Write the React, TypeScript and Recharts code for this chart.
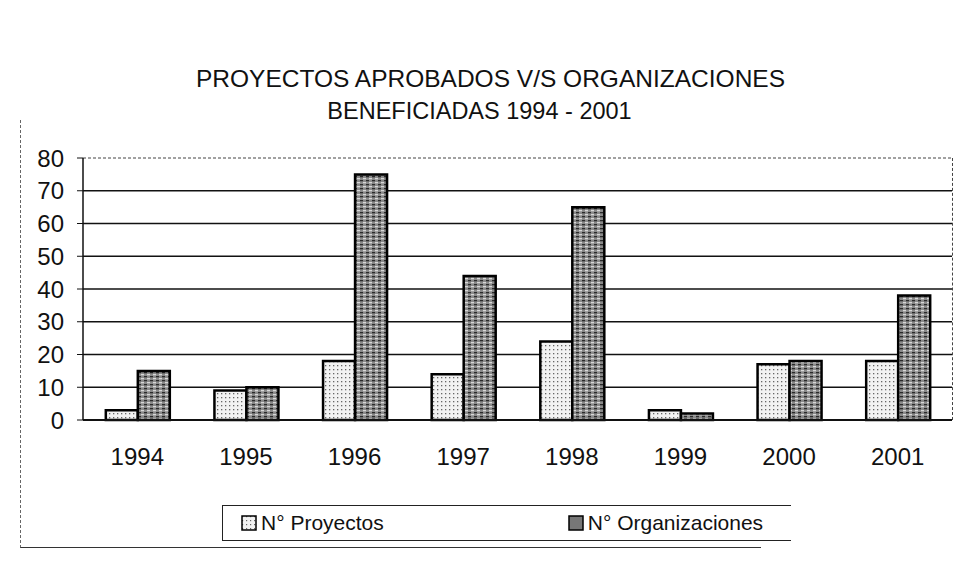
import React from 'react';
import { BarChart, Bar, XAxis, YAxis, CartesianGrid, ReferenceLine } from 'recharts';

const years = ['1994', '1995', '1996', '1997', '1998', '1999', '2000', '2001'];
const proyectos = [3, 9, 18, 14, 24, 3, 17, 18];
const organizaciones = [15, 10, 75, 44, 65, 2, 18, 38];
const yTicks = [0, 10, 20, 30, 40, 50, 60, 70, 80];

const data = years.map((year, i) => ({
    year,
    proyectos: proyectos[i],
    organizaciones: organizaciones[i],
}));

const font = '"Liberation Sans", Arial, sans-serif';

const LegendBox: React.FC = () => (
    <div
        style={{
            position: 'absolute',
            left: 222,
            top: 505,
            width: 568,
            height: 34,
            borderLeft: '1.5px solid #222',
            borderTop: '1.5px solid #222',
            borderBottom: '1.5px solid #222',
            fontFamily: font,
            fontSize: 21,
            color: '#111',
            display: 'flex',
            alignItems: 'center',
        }}
    >
        <svg width={16} height={16} style={{ marginLeft: 18, marginRight: 4 }}>
            <defs>
                <pattern id="dotsLegend" width="4" height="4" patternUnits="userSpaceOnUse">
                    <rect width="4" height="4" fill="#f2f2f2" />
                    <rect x="1" y="1" width="1.2" height="1.2" fill="#666" />
                </pattern>
            </defs>
            <rect x={1} y={1} width={14} height={14} fill="url(#dotsLegend)" stroke="#000" strokeWidth={1.5} />
        </svg>
        <span>N° Proyectos</span>
        <svg width={16} height={16} style={{ marginLeft: 184, marginRight: 4 }}>
            <rect x={1} y={1} width={14} height={14} fill="#777" stroke="#000" strokeWidth={1.5} />
        </svg>
        <span>N° Organizaciones</span>
    </div>
);

export default function App() {
    return (
        <div style={{ position: 'absolute', left: 0, top: 0, width: 959, height: 569, background: '#fff' }}>
            <div
                style={{
                    position: 'absolute',
                    left: 20,
                    top: 120,
                    width: 740,
                    height: 427,
                    borderLeft: '1px dashed #666',
                    borderBottom: '1.5px solid #333',
                }}
            />
            <div
                style={{
                    position: 'absolute',
                    left: 0,
                    top: 62,
                    width: 959,
                    textAlign: 'center',
                    fontFamily: font,
                    fontSize: 24.5,
                    lineHeight: '33px',
                    color: '#111',
                }}
            >
                <div style={{ marginLeft: 22 }}>PROYECTOS APROBADOS V/S ORGANIZACIONES</div>
                <div style={{ marginLeft: 0, fontSize: 23.5 }}>BENEFICIADAS 1994 - 2001</div>
            </div>
            <div style={{ position: 'absolute', left: 0, top: 0 }}>
                <BarChart
                    width={959}
                    height={569}
                    data={data}
                    margin={{ top: 158, right: 7, left: 0, bottom: 109 }}
                    barCategoryGap="21%"
                    barGap={0}
                >
                    <defs>
                        <pattern id="dots" width="4" height="4" patternUnits="userSpaceOnUse">
                            <rect width="4" height="4" fill="#f2f2f2" />
                            <rect x="1" y="1" width="1.3" height="1.3" fill="#666" />
                        </pattern>
                        <pattern id="hatch" width="6" height="4" patternUnits="userSpaceOnUse">
                            <rect width="6" height="4" fill="#8a8a8a" />
                            <rect x="0" y="0" width="3" height="1.3" fill="#2a2a2a" />
                            <rect x="3" y="2" width="3" height="1.3" fill="#d8d8d8" />
                        </pattern>
                    </defs>
                    <CartesianGrid
                        vertical={false}
                        stroke="#111"
                        strokeWidth={1.6}
                        horizontalValues={[10, 20, 30, 40, 50, 60, 70]}
                    />
                    <ReferenceLine y={80} stroke="#444" strokeDasharray="3 2" strokeWidth={1} />
                    <XAxis
                        dataKey="year"
                        axisLine={{ stroke: '#111', strokeWidth: 1.8 }}
                        tickLine={false}
                        tickMargin={22}
                        height={40}
                        tick={{ fill: '#111', fontSize: 24, fontFamily: font }}
                        interval={0}
                    />
                    <YAxis
                        domain={[0, 80]}
                        ticks={yTicks}
                        width={83}
                        axisLine={{ stroke: '#111', strokeWidth: 1.5 }}
                        tickLine={{ stroke: '#111' }}
                        tickSize={6}
                        tickMargin={13}
                        tick={{ fill: '#111', fontSize: 24, fontFamily: font }}
                    />
                    <Bar
                        dataKey="proyectos"
                        name="N° Proyectos"
                        fill="url(#dots)"
                        stroke="#000"
                        strokeWidth={2.5}
                        isAnimationActive={false}
                    />
                    <Bar
                        dataKey="organizaciones"
                        name="N° Organizaciones"
                        fill="url(#hatch)"
                        stroke="#000"
                        strokeWidth={2.5}
                        isAnimationActive={false}
                    />
                </BarChart>
            </div>
            <div
                style={{
                    position: 'absolute',
                    left: 952,
                    top: 158,
                    height: 262,
                    borderLeft: '1px dashed #444',
                }}
            />
            <LegendBox />
        </div>
    );
}
